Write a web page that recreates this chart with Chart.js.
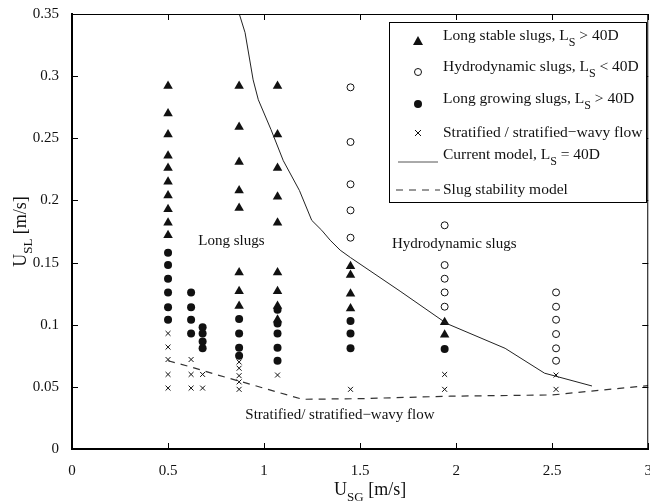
<!DOCTYPE html>
<html>
<head>
<meta charset="utf-8">
<script src="https://cdn.jsdelivr.net/npm/chart.js@4/dist/chart.umd.min.js"></script>
<style>
  html, body { margin: 0; padding: 0; background: #fff; overflow: hidden; }
  #chart { display: block; }
</style>
</head>
<body>
<canvas id="chart" width="657" height="504"></canvas>
<script>
// Long stable slugs (filled triangles)
const stableX = [0.5, 0.5, 0.5, 0.5, 0.5, 0.5, 0.5, 0.5, 0.5, 0.5,
                 0.87, 0.87, 0.87, 0.87, 0.87, 0.87, 0.87, 0.87,
                 1.07, 1.07, 1.07, 1.07, 1.07, 1.07, 1.07, 1.07, 1.07,
                 1.45, 1.45, 1.45, 1.45,
                 1.94, 1.94];
const stableY = [0.292, 0.270, 0.253, 0.236, 0.226, 0.215, 0.204, 0.193, 0.182, 0.172,
                 0.292, 0.259, 0.231, 0.208, 0.194, 0.142, 0.127, 0.115,
                 0.292, 0.253, 0.226, 0.203, 0.182, 0.142, 0.127, 0.115, 0.104,
                 0.147, 0.140, 0.125, 0.113,
                 0.102, 0.092];

// Hydrodynamic slugs (open circles)
const hydroX = [1.45, 1.45, 1.45, 1.45, 1.45,
                1.94, 1.94, 1.94, 1.94, 1.94,
                2.52, 2.52, 2.52, 2.52, 2.52, 2.52];
const hydroY = [0.291, 0.247, 0.213, 0.192, 0.170,
                0.180, 0.148, 0.137, 0.126, 0.1145,
                0.126, 0.1145, 0.104, 0.0925, 0.081, 0.071];

// Long growing slugs (filled circles)
const growX = [0.5, 0.5, 0.5, 0.5, 0.5, 0.5,
               0.62, 0.62, 0.62, 0.62,
               0.68, 0.68, 0.68, 0.68,
               0.87, 0.87, 0.87, 0.87,
               1.07, 1.07, 1.07, 1.07, 1.07,
               1.45, 1.45, 1.45,
               1.94];
const growY = [0.158, 0.148, 0.137, 0.126, 0.114, 0.104,
               0.126, 0.114, 0.104, 0.093,
               0.098, 0.093, 0.0864, 0.081,
               0.1046, 0.093, 0.0815, 0.075,
               0.112, 0.101, 0.093, 0.0815, 0.071,
               0.103, 0.093, 0.081,
               0.0805];

// Stratified / stratified-wavy flow (crosses)
const stratX = [0.5, 0.5, 0.5, 0.5, 0.5,
                0.62, 0.62, 0.62,
                0.68, 0.68,
                0.87, 0.87, 0.87, 0.87, 0.87,
                1.07, 1.45, 1.94, 1.94, 2.52, 2.52];
const stratY = [0.093, 0.082, 0.072, 0.060, 0.049,
                0.072, 0.060, 0.049,
                0.060, 0.049,
                0.070, 0.065, 0.059, 0.054, 0.048,
                0.0595, 0.048, 0.060, 0.048, 0.0595, 0.048];

// Current model, Ls = 40D (solid line)
const modelX = [0.871, 0.901, 0.943, 0.970, 1.036, 1.100, 1.184, 1.248, 1.300, 1.344, 1.396,
                1.45, 1.708, 1.95, 2.255, 2.46, 2.707];
const modelY = [0.350, 0.335, 0.297, 0.281, 0.257, 0.232, 0.208, 0.184, 0.176, 0.168, 0.160,
                0.154, 0.127, 0.101, 0.081, 0.061, 0.0507];

// Slug stability model (dashed line)
const stabX = [0.5, 0.62, 0.76, 0.93, 1.08, 1.2, 1.5, 1.97, 2.5, 3.0];
const stabY = [0.071, 0.066, 0.0595, 0.052, 0.0453, 0.040, 0.0405, 0.0425, 0.0435, 0.051];

const xTicks = [0, 0.5, 1, 1.5, 2, 2.5, 3];
const yTicks = [0, 0.05, 0.1, 0.15, 0.2, 0.25, 0.3, 0.35];

function pairs(xs, ys) {
  return xs.map(function (v, i) { return { x: v, y: ys[i] }; });
}

function fmt(v) {
  return String(Math.round(v * 100) / 100);
}

const serif = "'Liberation Serif', 'DejaVu Serif', serif";
const ink = '#111';

// draws inward ticks, annotations, legend and axis titles
const overlay = {
  id: 'overlay',
  afterDraw(chart) {
    const ctx = chart.ctx;
    const a = chart.chartArea;
    const xs = chart.scales.x;
    const ys = chart.scales.y;
    ctx.save();

    // top / right border
    ctx.strokeStyle = '#000';
    ctx.lineWidth = 1;
    ctx.beginPath();
    ctx.moveTo(a.left, a.top + 0.5);
    ctx.lineTo(a.right - 0.5, a.top + 0.5);
    ctx.lineTo(a.right - 0.5, a.bottom);
    ctx.stroke();

    // inward ticks
    ctx.beginPath();
    xTicks.forEach(function (t) {
      const px = Math.round(xs.getPixelForValue(t)) + 0.5;
      ctx.moveTo(px, a.bottom); ctx.lineTo(px, a.bottom - 6);
      ctx.moveTo(px, a.top); ctx.lineTo(px, a.top + 6);
    });
    yTicks.forEach(function (t) {
      const py = Math.round(ys.getPixelForValue(t)) + 0.5;
      ctx.moveTo(a.left, py); ctx.lineTo(a.left + 6, py);
      ctx.moveTo(a.right, py); ctx.lineTo(a.right - 6, py);
    });
    ctx.stroke();

    // region annotations
    ctx.fillStyle = ink;
    ctx.font = '15px ' + serif;
    ctx.textAlign = 'center';
    ctx.textBaseline = 'middle';
    ctx.fillText('Long slugs', xs.getPixelForValue(0.83), ys.getPixelForValue(0.167));
    ctx.fillText('Hydrodynamic slugs', xs.getPixelForValue(1.99), ys.getPixelForValue(0.165));
    ctx.fillText('Stratified/ stratified\u2212wavy flow', xs.getPixelForValue(1.395), ys.getPixelForValue(0.027));

    // legend box
    const lx = 389, ly = 22, lw = 258, lh = 181;
    ctx.fillStyle = '#fff';
    ctx.fillRect(lx, ly, lw, lh);
    ctx.strokeStyle = '#000';
    ctx.lineWidth = 1;
    ctx.strokeRect(lx + 0.5, ly + 0.5, lw - 1, lh - 1);

    const mx = 418, tx = 443;
    const rows = [
      { y: 36, parts: ['Long stable slugs, L', 'S', ' > 40D'], mark: 'tri' },
      { y: 67, parts: ['Hydrodynamic slugs, L', 'S', ' < 40D'], mark: 'open' },
      { y: 99, parts: ['Long growing slugs, L', 'S', ' > 40D'], mark: 'dot' },
      { y: 133, parts: ['Stratified / stratified\u2212wavy flow'], mark: 'cross' },
      { y: 155, parts: ['Current model, L', 'S', ' = 40D'], mark: 'line' },
      { y: 190, parts: ['Slug stability model'], mark: 'dash' }
    ];
    rows.forEach(function (r) {
      ctx.fillStyle = ink;
      ctx.strokeStyle = ink;
      ctx.lineWidth = 1;
      ctx.setLineDash([]);
      if (r.mark === 'tri') {
        ctx.beginPath();
        ctx.moveTo(mx, r.y);
        ctx.lineTo(mx + 5, r.y + 9);
        ctx.lineTo(mx - 5, r.y + 9);
        ctx.closePath();
        ctx.fill();
      } else if (r.mark === 'open') {
        ctx.beginPath();
        ctx.arc(mx, r.y + 5, 3.5, 0, Math.PI * 2);
        ctx.stroke();
      } else if (r.mark === 'dot') {
        ctx.beginPath();
        ctx.arc(mx, r.y + 5, 4, 0, Math.PI * 2);
        ctx.fill();
      } else if (r.mark === 'cross') {
        ctx.beginPath();
        ctx.moveTo(mx - 3, r.y - 3); ctx.lineTo(mx + 3, r.y + 3);
        ctx.moveTo(mx + 3, r.y - 3); ctx.lineTo(mx - 3, r.y + 3);
        ctx.stroke();
      } else if (r.mark === 'line') {
        ctx.strokeStyle = '#555';
        ctx.beginPath();
        ctx.moveTo(398, r.y + 7); ctx.lineTo(438, r.y + 7);
        ctx.stroke();
      } else if (r.mark === 'dash') {
        ctx.strokeStyle = '#333';
        ctx.setLineDash([7, 6]);
        ctx.beginPath();
        ctx.moveTo(396, r.y); ctx.lineTo(440, r.y);
        ctx.stroke();
        ctx.setLineDash([]);
      }
      // text with subscript
      ctx.fillStyle = ink;
      ctx.textAlign = 'left';
      ctx.textBaseline = 'middle';
      let cx = tx;
      r.parts.forEach(function (p, i) {
        if (i === 1) {
          ctx.font = '12px ' + serif;
          ctx.fillText(p, cx, r.y + 7);
        } else {
          ctx.font = '15.5px ' + serif;
          ctx.fillText(p, cx, r.y);
        }
        cx += ctx.measureText(p).width;
      });
    });

    // x axis title: U_SG [m/s]
    ctx.fillStyle = ink;
    ctx.textBaseline = 'alphabetic';
    ctx.textAlign = 'left';
    ctx.font = '18px ' + serif;
    const wU = ctx.measureText('U').width;
    const wRest = ctx.measureText(' [m/s]').width;
    ctx.font = '13px ' + serif;
    const wSG = ctx.measureText('SG').width;
    let sx = (a.left + a.right) / 2 + 10 - (wU + wSG + wRest) / 2;
    ctx.font = '18px ' + serif;
    ctx.fillText('U', sx, 495);
    ctx.font = '13px ' + serif;
    ctx.fillText('SG', sx + wU, 501);
    ctx.font = '18px ' + serif;
    ctx.fillText(' [m/s]', sx + wU + wSG, 495);

    // y axis title: U_SL [m/s]
    ctx.translate(26, (a.top + a.bottom) / 2);
    ctx.rotate(-Math.PI / 2);
    ctx.font = '18px ' + serif;
    const yU = ctx.measureText('U').width;
    const yRest = ctx.measureText(' [m/s]').width;
    ctx.font = '13px ' + serif;
    const ySL = ctx.measureText('SL').width;
    let sy = -(yU + ySL + yRest) / 2;
    ctx.font = '18px ' + serif;
    ctx.fillText('U', sy, 0);
    ctx.font = '13px ' + serif;
    ctx.fillText('SL', sy + yU, 6);
    ctx.font = '18px ' + serif;
    ctx.fillText(' [m/s]', sy + yU + ySL, 0);

    ctx.restore();
  }
};

const ctx = document.getElementById('chart');
new Chart(ctx, {
  type: 'scatter',
  data: {
    datasets: [
      {
        label: 'Current model',
        data: pairs(modelX, modelY),
        showLine: true,
        borderColor: '#222',
        borderWidth: 1,
        pointRadius: 0,
        fill: false,
        tension: 0
      },
      {
        label: 'Slug stability model',
        data: pairs(stabX, stabY),
        showLine: true,
        borderColor: '#333',
        borderWidth: 1.2,
        borderDash: [7, 6],
        pointRadius: 0,
        fill: false,
        tension: 0
      },
      {
        label: 'Long stable slugs',
        data: pairs(stableX, stableY),
        pointStyle: 'triangle',
        pointRadius: 5.5,
        backgroundColor: ink,
        borderColor: ink,
        borderWidth: 0
      },
      {
        label: 'Hydrodynamic slugs',
        data: pairs(hydroX, hydroY),
        pointStyle: 'circle',
        pointRadius: 3.5,
        backgroundColor: '#fff',
        borderColor: ink,
        borderWidth: 1
      },
      {
        label: 'Long growing slugs',
        data: pairs(growX, growY),
        pointStyle: 'circle',
        pointRadius: 4,
        backgroundColor: ink,
        borderColor: ink,
        borderWidth: 0
      },
      {
        label: 'Stratified / stratified-wavy flow',
        data: pairs(stratX, stratY),
        pointStyle: 'crossRot',
        pointRadius: 3.5,
        backgroundColor: ink,
        borderColor: ink,
        borderWidth: 1
      }
    ]
  },
  options: {
    responsive: false,
    animation: false,
    devicePixelRatio: 1,
    layout: { padding: { left: 0, right: 0, top: 11, bottom: 0 } },
    plugins: {
      legend: { display: false },
      tooltip: { enabled: false }
    },
    scales: {
      x: {
        type: 'linear',
        min: 0,
        max: 3,
        afterFit: function (s) { s.height = 55; },
        afterBuildTicks: function (s) { s.ticks = xTicks.map(function (v) { return { value: v }; }); },
        ticks: {
          color: ink,
          font: { family: serif, size: 15 },
          padding: 5,
          maxRotation: 0,
          callback: fmt
        },
        grid: { display: false },
        border: { display: true, color: '#000', width: 2 }
      },
      y: {
        type: 'linear',
        min: 0,
        max: 0.35,
        afterFit: function (s) { s.width = 72; },
        afterBuildTicks: function (s) { s.ticks = yTicks.map(function (v) { return { value: v }; }); },
        ticks: {
          color: ink,
          font: { family: serif, size: 15 },
          padding: 5,
          callback: fmt
        },
        grid: { display: false },
        border: { display: true, color: '#000', width: 2 }
      }
    }
  },
  plugins: [overlay]
});
</script>
</body>
</html>
